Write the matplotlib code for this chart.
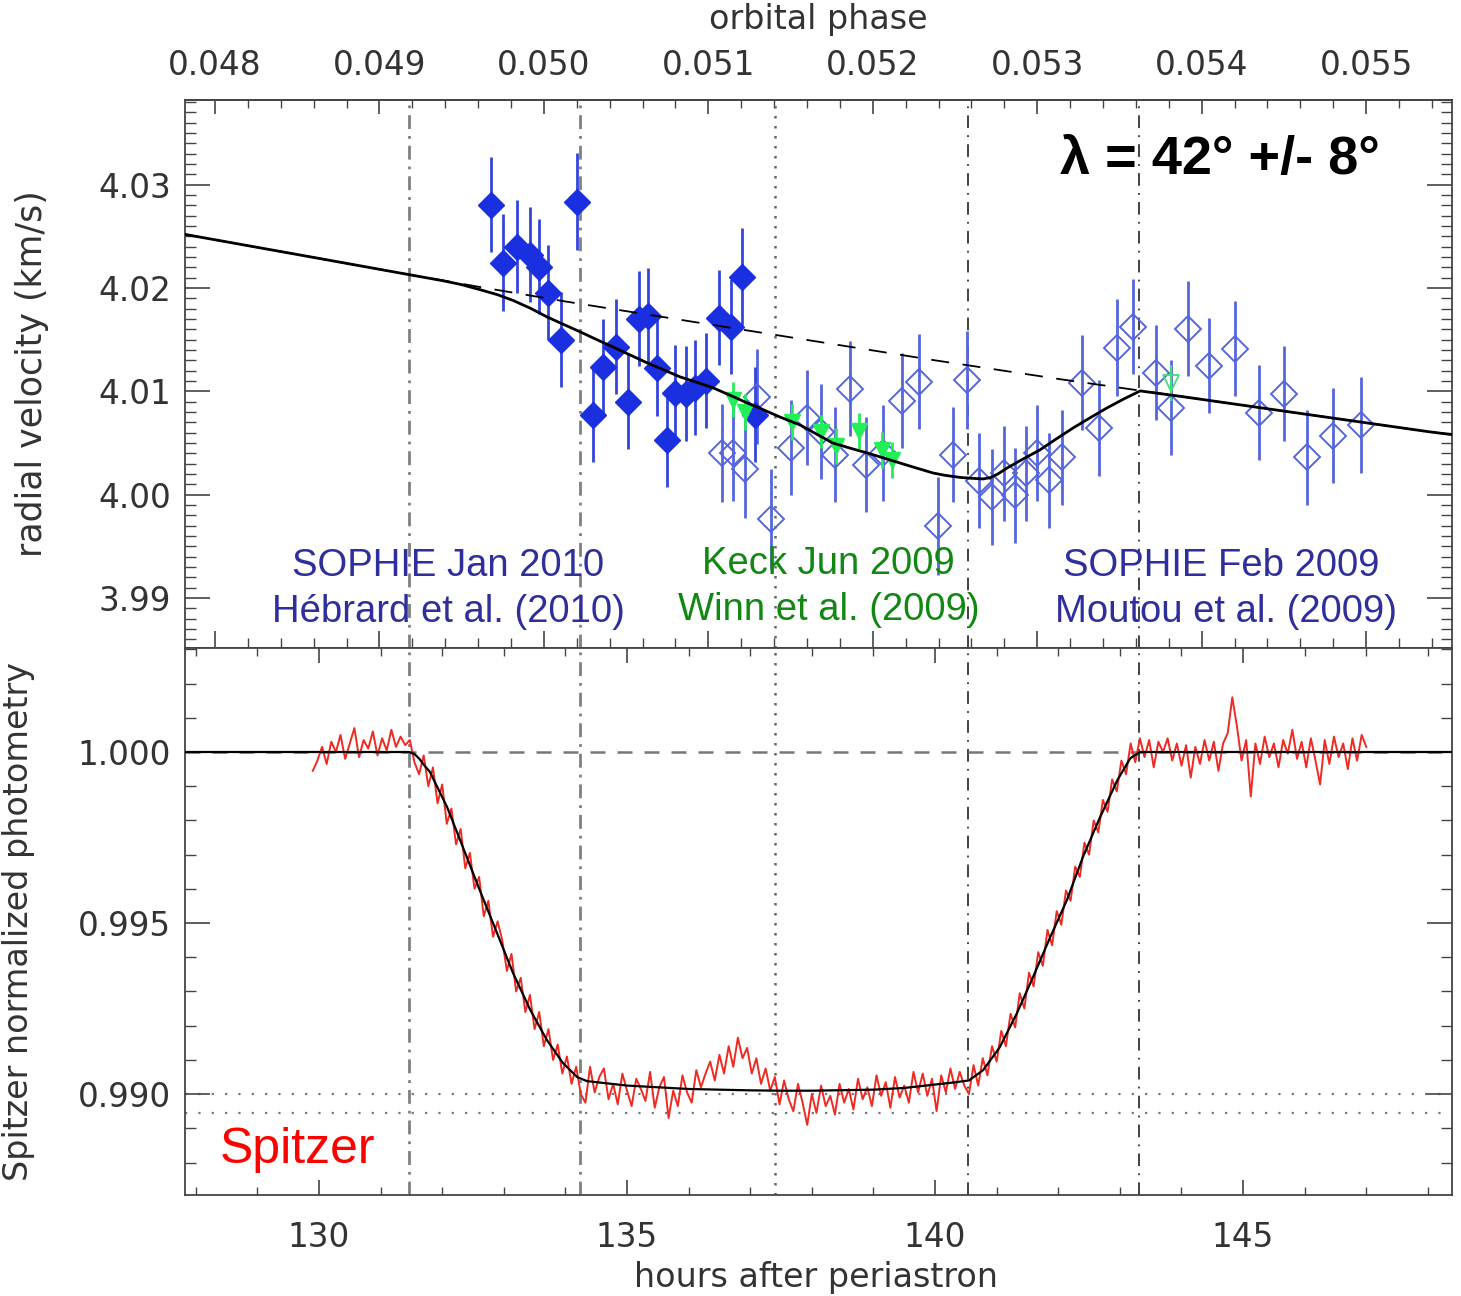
import numpy as np
import matplotlib
matplotlib.use('Agg')
import matplotlib.pyplot as plt
from matplotlib.ticker import MultipleLocator, FixedLocator

# ---- radial velocities (hours after periastron, km/s) ----
# SOPHIE Jan 2010 (filled diamonds)
sj_h = [132.79, 132.99, 133.21, 133.43, 133.57, 133.72, 133.93, 134.19, 134.45, 134.61,
        134.82, 135.02, 135.20, 135.34, 135.49, 135.65, 135.78, 135.96, 136.10, 136.28,
        136.49, 136.69, 136.87, 137.08]
sj_v = [4.02806, 4.02244, 4.02399, 4.02322, 4.02205, 4.01953, 4.01498, 4.02835, 4.00771, 4.01236,
        4.01430, 4.00897, 4.01702, 4.01731, 4.01227, 4.00529, 4.00984, 4.00975, 4.01033, 4.01101,
        4.01711, 4.01624, 4.02109, 4.00771]
sj_e = [0.0046, 0.0047, 0.0045, 0.0046, 0.0046, 0.0046, 0.0046, 0.0047, 0.0046, 0.0046,
        0.0046, 0.0046, 0.0046, 0.0046, 0.0047, 0.0046, 0.0046, 0.0046, 0.0046, 0.0046,
        0.0046, 0.0046, 0.0047, 0.0046]

# SOPHIE Feb 2009 (open diamonds)
sf_h = [136.54, 136.72, 136.92, 137.11, 137.34, 137.66, 137.92, 138.15, 138.38, 138.62,
        138.88, 139.16, 139.46, 139.74, 140.05, 140.29, 140.52, 140.71, 140.93, 141.12,
        141.30, 141.48, 141.66, 141.85, 142.06, 142.39, 142.66, 142.96, 143.21, 143.59,
        143.83, 144.11, 144.45, 144.87, 145.26, 145.67, 146.04, 146.46, 146.92]
sf_v = [4.00403, 4.00403, 4.00248, 4.00946, 3.99764, 4.00452, 4.00742, 4.00607, 4.00384, 4.01023,
        4.00287, 4.00403, 4.00907, 4.01091, 3.99696, 4.00384, 4.01110, 4.00132, 3.99977, 4.00209,
        3.99996, 4.00209, 4.00403, 4.00141, 4.00364, 4.01081, 4.00645, 4.01421, 4.01624, 4.01178,
        4.00839, 4.01605, 4.01246, 4.01411, 4.00791, 4.00975, 4.00364, 4.00568, 4.00674]
sf_e = [0.0047, 0.0046, 0.0047, 0.0046, 0.0048, 0.0046, 0.0046, 0.0046, 0.0046, 0.0046,
        0.0046, 0.0046, 0.0046, 0.0046, 0.0047, 0.0046, 0.0047, 0.0046, 0.0046, 0.0046,
        0.0046, 0.0046, 0.0046, 0.0046, 0.0046, 0.0046, 0.0046, 0.0047, 0.0046, 0.0046,
        0.0046, 0.0046, 0.0046, 0.0046, 0.0046, 0.0046, 0.0046, 0.0046, 0.0046]

# Keck Jun 2009 (green triangles)
kk_h = [136.72, 136.92, 137.68, 138.15, 138.39, 138.77, 139.14, 139.30]
kk_v = [4.00917, 4.00800, 4.00703, 4.00607, 4.00471, 4.00616, 4.00432, 4.00335]
kk_e = [0.0017, 0.0017, 0.0017, 0.0016, 0.0017, 0.0017, 0.0017, 0.0017]
kk_open_h = [143.83]
kk_open_v = [4.01081]
kk_open_e = [0.0017]

# Keplerian orbit alone (dashed during transit)
kep_h = [127.8, 130.0, 131.46, 132.0, 132.61, 134.0, 136.0, 138.0, 140.0, 142.0, 144.0, 146.0, 148.0, 148.4]
kep_v = [4.02522, 4.02287, 4.0213, 4.02075, 4.0201, 4.0187, 4.0168, 4.0149, 4.0130, 4.0112, 4.0095, 4.0078, 4.0061, 4.0058]

# Keplerian + Rossiter-McLaughlin model
rm_h = [127.8, 130.0, 131.46, 132.0, 132.3, 132.61, 132.9, 133.15, 133.43, 133.70, 133.97, 134.24,
        134.50, 134.77, 135.05, 135.33, 135.60, 135.86, 136.13, 136.40, 136.68, 136.95,
        137.22, 137.48, 137.81, 138.08, 138.34, 138.62, 138.90, 139.17, 139.43, 139.70,
        139.97, 140.15, 140.30, 140.42, 140.52, 140.65, 140.78, 140.90, 141.02, 141.17,
        141.43, 141.70, 141.97, 142.24, 142.52, 142.79, 143.06, 143.33, 144.0, 146.0, 148.0, 148.4]
rm_v = [4.02522, 4.02287, 4.0213, 4.02072, 4.02035, 4.01985, 4.01935, 4.01880, 4.01805, 4.01721, 4.01648, 4.01576,
        4.01503, 4.01430, 4.01352, 4.01275, 4.01207, 4.01140, 4.01088, 4.01033, 4.00960, 4.00888,
        4.00820, 4.00752, 4.00674, 4.00585, 4.00500, 4.00450, 4.00403, 4.00354, 4.00306, 4.00257,
        4.00209, 4.00188, 4.00175, 4.00166, 4.00161, 4.00156, 4.00152, 4.00165, 4.00200, 4.00258,
        4.00345, 4.00432, 4.00540, 4.00645, 4.00745, 4.00839, 4.00925, 4.01004, 4.0095, 4.0078, 4.0061, 4.0058]

# ---- Spitzer photometry ----
# time stamps: regular cadence of 0.075 h starting 129.9 h
spz_t0 = 129.9
spz_dt = 0.075
# flux - 1 in ppm
spz_ppm = [
    -550, -250, 150, -350, 300, 0, 500, -200, 250, 700,
    -150, 350, 100, 600, -100, 400, 50, 650, 150, 450,
    200, 350, -300, -650, -100, -1000, -450, -1500, -950, -2100,
    -1650, -2700, -2250, -3400, -2950, -4000, -3650, -4800, -4350, -5400,
    -4950, -5500, -6400, -5900, -7000, -6600, -7600, -7100, -8100, -7600,
    -8600, -8100, -9000, -8550, -9400, -8900, -9700, -9200, -10000, -10250,
    -9200, -9950, -9500, -9250, -10150, -9700, -10300, -9400, -9900, -10350,
    -9550, -9850, -10200, -9350, -10400, -9800, -9500, -10700, -9900, -10350,
    -9450, -9950, -10250, -9300, -9800, -9400, -9050, -9600, -8850, -9400,
    -8600, -9200, -8350, -8950, -8650, -9400, -8950, -9700, -9250, -9900,
    -9500, -10300, -9600, -10150, -10500, -9700, -10250, -10900, -10000, -10550,
    -9750, -10350, -10050, -10600, -9700, -10250, -9850, -10450, -9550, -10150,
    -9800, -10350, -9450, -10050, -9650, -10400, -9500, -10100, -9750, -10250,
    -9350, -9950, -9400, -10050, -9550, -10500, -9450, -9950, -9250, -9850,
    -9350, -9750, -10000, -9150, -9750, -8950, -9450, -8600, -9050, -8150,
    -8600, -7650, -8050, -7050, -7500, -6450, -6850, -5850, -6250, -5200,
    -5650, -4650, -5050, -4050, -4350, -3350, -3650, -2650, -3000, -2000,
    -2350, -1400, -1750, -800, -1150, -250, -650, 250, -300, 400,
    -150, 350, -450, 300, 0, 400, -250, 250, -400, 200,
    -750, 150, -350, 350, -250, 300, -550, 250, 550, 1600,
    750, -250, 350, -1300, 250, -350, 450, -150, 250, -450,
    350, -50, 650, -200, 300, -450, 400, -250, -950, 350,
    -350, 450, -150, 250, -500, 400, -250, 500, 150]

# transit model (hours, ppm)
mod_h = [127.8, 131.46, 131.55, 131.63, 131.70, 131.80, 132.08, 132.29, 132.61, 132.89,
         133.15, 133.43, 133.70, 133.96, 134.19, 134.35, 135.0, 136.0, 137.0, 137.5,
         138.0, 139.0, 139.5, 140.0, 140.3, 140.55, 140.78, 141.05, 141.33, 141.59,
         141.87, 142.14, 142.40, 142.68, 142.96, 143.17, 143.33, 148.4]
mod_ppm = [0, 0, -60, -200, -370, -580, -1610, -2570, -4040, -5290,
           -6460, -7540, -8420, -9090, -9500, -9620, -9750, -9850, -9890, -9900,
           -9900, -9870, -9820, -9720, -9660, -9600, -9300, -8630, -7630, -6580,
           -5410, -4330, -3070, -1900, -820, -180, 0, 0]

# contact times (hours)
contacts = [131.46, 134.24, 137.40, 140.54, 143.31]

# orbital phase scale
period_h = 2669.3
t_ref = 128.312
ph_ref = 0.048


def h2ph(h):
    return ph_ref + (np.asarray(h) - t_ref) / period_h


def ph2h(p):
    return t_ref + (np.asarray(p) - ph_ref) * period_h


plt.rcParams['font.family'] = ['DejaVu Sans']
tick_col = '#333333'
spine_col = '#444444'
tick_fs = 23.5

fig = plt.figure(figsize=(14.61, 12.96), dpi=100)
ax1 = fig.add_axes([0.1266, 0.5, 0.8672, 0.4228])
ax2 = fig.add_axes([0.1266, 0.0779, 0.8672, 0.4221])

xlim = (127.825, 148.39)


def contact_lines(ax):
    ax.axvline(contacts[0], color='#808080', lw=2.0, ls=(0, (5, 2.5, 1, 2.5)), zorder=1)
    ax.axvline(contacts[1], color='#808080', lw=2.0, ls=(0, (5, 2.5, 1, 2.5)), zorder=1)
    ax.axvline(contacts[2], color='#666666', lw=1.8, ls=(0, (1, 3)), zorder=1)
    ax.axvline(contacts[3], color='#333333', lw=1.3, ls=(0, (7, 4, 1, 4)), zorder=1)
    ax.axvline(contacts[4], color='#333333', lw=1.3, ls=(0, (7, 4, 1, 4)), zorder=1)


# ---------- top panel: radial velocities ----------
contact_lines(ax1)
ax1.plot(kep_h, kep_v, color='black', lw=1.3, ls=(0, (10, 7.5)), zorder=3)
ax1.plot(rm_h, rm_v, color='black', lw=2.0, zorder=4)

ax1.errorbar(sf_h, sf_v, yerr=sf_e, fmt='D', ms=13, mfc='none', mec='#5566dd', mew=1.4,
             ecolor='#5566dd', elinewidth=2, capsize=0, zorder=2)
ax1.errorbar(sj_h, sj_v, yerr=sj_e, fmt='D', ms=13, color='#1a2fe0',
             ecolor='#3345dd', elinewidth=2, capsize=0, zorder=2)
ax1.errorbar(kk_h, kk_v, yerr=kk_e, fmt='v', ms=12, color='#22ee55',
             ecolor='#22ee55', elinewidth=2, capsize=0, zorder=3)
ax1.errorbar(kk_open_h, kk_open_v, yerr=kk_open_e, fmt='v', ms=12, mfc='none', mec='#44dd77',
             mew=1.3, ecolor='#44dd77', elinewidth=1.5, capsize=0, zorder=3)

ax1.set_xlim(*xlim)
ax1.set_ylim(3.98515, 4.0382)
ax1.yaxis.set_major_locator(FixedLocator([3.99, 4.00, 4.01, 4.02, 4.03]))
ax1.yaxis.set_minor_locator(MultipleLocator(0.001))
ax1.set_yticklabels(['3.99', '4.00', '4.01', '4.02', '4.03'])
ax1.tick_params(axis='y', which='both', direction='in', left=True, right=True,
                labelsize=tick_fs, labelcolor=tick_col, color=spine_col, pad=10)
ax1.tick_params(axis='y', which='major', length=18, width=1.2)
ax1.tick_params(axis='y', which='minor', length=8, width=1.0)
ax1.tick_params(axis='x', which='both', length=0, labelbottom=False)
ax1.set_ylabel('radial velocity (km/s)', fontsize=25, color=tick_col)
ax1.yaxis.set_label_coords(-0.107, 0.5)

sec_top = ax1.secondary_xaxis('top', functions=(h2ph, ph2h))
sec_top.xaxis.set_major_locator(FixedLocator([0.048, 0.049, 0.050, 0.051, 0.052, 0.053, 0.054, 0.055]))
sec_top.xaxis.set_minor_locator(MultipleLocator(0.0002))
sec_top.set_xticklabels(['0.048', '0.049', '0.050', '0.051', '0.052', '0.053', '0.054', '0.055'])
sec_top.tick_params(which='both', direction='in', labelsize=tick_fs, labelcolor=tick_col,
                    color=spine_col, pad=13)
sec_top.tick_params(which='major', length=10, width=1.2)
sec_top.tick_params(which='minor', length=6, width=1.0)

sec_bot = ax1.secondary_xaxis('bottom', functions=(h2ph, ph2h))
sec_bot.xaxis.set_major_locator(MultipleLocator(0.001))
sec_bot.xaxis.set_minor_locator(MultipleLocator(0.0002))
sec_bot.tick_params(which='both', direction='in', labelbottom=False, color=spine_col)
sec_bot.tick_params(which='major', length=12, width=1.2)
sec_bot.tick_params(which='minor', length=7, width=1.0)

ax1.text(0.817, 0.890, 'λ = 42° +/- 8°', transform=ax1.transAxes, ha='center', va='center',
         fontsize=39, fontweight='bold', family=['Liberation Sans', 'DejaVu Sans'], color='black')

blue_txt = '#2e2e9c'
green_txt = '#118811'
lab_fs = 27.5
ax1.text(0.2076, 0.1496, 'SOPHIE Jan 2010', transform=ax1.transAxes, ha='center', va='center',
         fontsize=lab_fs, family='Liberation Sans', color=blue_txt)
ax1.text(0.2076, 0.0657, 'Hébrard et al. (2010)', transform=ax1.transAxes, ha='center', va='center',
         fontsize=lab_fs, family='Liberation Sans', color=blue_txt)
ax1.text(0.508, 0.153, 'Keck Jun 2009', transform=ax1.transAxes, ha='center', va='center',
         fontsize=lab_fs, family='Liberation Sans', color=green_txt)
ax1.text(0.508, 0.069, 'Winn et al. (2009)', transform=ax1.transAxes, ha='center', va='center',
         fontsize=lab_fs, family='Liberation Sans', color=green_txt)
ax1.text(0.8177, 0.1496, 'SOPHIE Feb 2009', transform=ax1.transAxes, ha='center', va='center',
         fontsize=lab_fs, family='Liberation Sans', color=blue_txt)
ax1.text(0.8216, 0.0657, 'Moutou et al. (2009)', transform=ax1.transAxes, ha='center', va='center',
         fontsize=lab_fs, family='Liberation Sans', color=blue_txt)

# ---------- bottom panel: Spitzer photometry ----------
contact_lines(ax2)
ax2.axhline(1.0, color='#777777', lw=1.8, ls=(0, (6, 4.8)), zorder=1)
ax2.axhline(0.990, color='#777777', lw=1.6, ls=(0, (1, 5)), zorder=1)
ax2.axhline(0.98944, color='#777777', lw=1.6, ls=(0, (1, 5)), zorder=1)

spz_t = spz_t0 + spz_dt * np.arange(len(spz_ppm))
spz_f = 1.0 + np.array(spz_ppm) * 1e-6
ax2.plot(spz_t, spz_f, color='#ee2a22', lw=1.4, zorder=2)
mod_f = 1.0 + np.array(mod_ppm) * 1e-6
ax2.plot(mod_h, mod_f, color='black', lw=1.6, zorder=3)

ax2.set_xlim(*xlim)
ax2.set_ylim(0.98705, 1.00304)
ax2.yaxis.set_major_locator(FixedLocator([0.990, 0.995, 1.000]))
ax2.yaxis.set_minor_locator(MultipleLocator(0.001))
ax2.set_yticklabels(['0.990', '0.995', '1.000'])
ax2.xaxis.set_major_locator(FixedLocator([130, 135, 140, 145]))
ax2.xaxis.set_minor_locator(MultipleLocator(1))
ax2.set_xticklabels(['130', '135', '140', '145'])
ax2.tick_params(axis='y', which='both', direction='in', left=True, right=True,
                labelsize=tick_fs, labelcolor=tick_col, color=spine_col, pad=10)
ax2.tick_params(axis='y', which='major', length=18, width=1.2)
ax2.tick_params(axis='y', which='minor', length=8, width=1.0)
ax2.tick_params(axis='x', which='both', direction='in', top=True, bottom=True,
                labelsize=tick_fs, labelcolor=tick_col, color=spine_col, pad=19)
ax2.tick_params(axis='x', which='major', length=11, width=1.2)
ax2.tick_params(axis='x', which='minor', length=6, width=1.0)
ax2.set_ylabel('Spitzer normalized photometry', fontsize=24, color=tick_col)
ax2.yaxis.set_label_coords(-0.118, 0.5)

ax2.text(0.0276, 0.0823, 'Spitzer', transform=ax2.transAxes, ha='left', va='center',
         fontsize=36, family='Liberation Sans', color='#ff0000')

for ax in (ax1, ax2):
    for sp in ax.spines.values():
        sp.set_color(spine_col)
        sp.set_linewidth(1.3)
for sec in (sec_top, sec_bot):
    for sp in sec.spines.values():
        sp.set_color(spine_col)
        sp.set_linewidth(1.3)

fig.text(818 / 1461, 1 - 20 / 1296, 'orbital phase', ha='center', va='center',
         fontsize=24, color=tick_col)
fig.text(816 / 1461, 1 - 1278 / 1296, 'hours after periastron', ha='center', va='center',
         fontsize=24, color=tick_col)

fig.savefig('out.png', dpi=100)
